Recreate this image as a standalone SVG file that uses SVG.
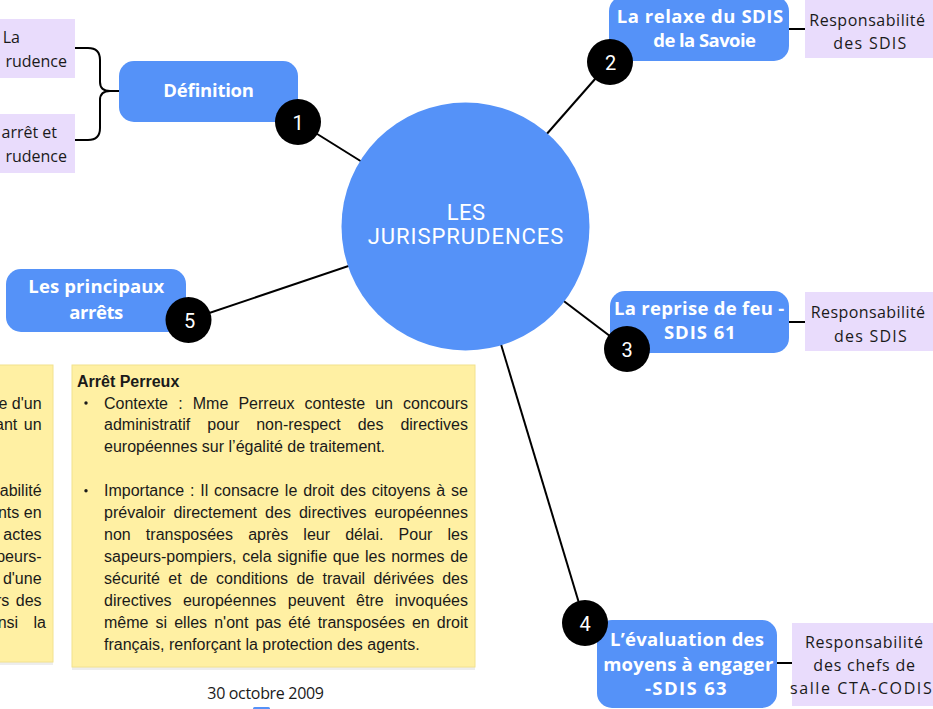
<svg xmlns="http://www.w3.org/2000/svg" width="933" height="709" viewBox="0 0 933 709">
<style>
.node{fill:#5592F8}
.nt{font-family:"Open Sans","Liberation Sans",sans-serif;font-weight:700;font-size:18.5px;fill:#ffffff}
.leaf{fill:#E9DCFC}
.lt{font-family:"Open Sans","Liberation Sans",sans-serif;font-size:16px;fill:#1a1a1a}
.badge{fill:#000000}
.bt{font-family:Roboto,"DejaVu Sans",sans-serif;font-size:20px;fill:#ffffff;text-anchor:middle}
.ln{stroke:#000000;stroke-width:2;fill:none}
.note{fill:#FFF0A3;stroke:#F2E28E;stroke-width:1}
.shadow{fill:#000000;opacity:0.07}
.body{font-family:"Liberation Sans",Arial,sans-serif;font-size:16px;fill:#1a1a1a}
.ct{font-family:Roboto,"DejaVu Sans",sans-serif;font-size:22px;fill:#ffffff}
</style>
<rect x="0" y="0" width="933" height="709" fill="#ffffff"/>
<g id="connectors">
<line class="ln" x1="298" y1="122" x2="465.5" y2="226.5"/>
<line class="ln" x1="610" y1="62" x2="465.5" y2="226.5"/>
<line class="ln" x1="627" y1="349" x2="465.5" y2="226.5"/>
<line class="ln" x1="585" y1="623" x2="465.5" y2="226.5"/>
<line class="ln" x1="188.5" y1="320" x2="465.5" y2="226.5"/>
<line class="ln" x1="789" y1="29" x2="805" y2="29"/>
<line class="ln" x1="789" y1="322" x2="805" y2="322"/>
<line class="ln" x1="777" y1="663" x2="792" y2="663"/>
<path class="ln" d="M75,48 H88 Q100,48 100,60 V82 Q100,91 110,91 H119 M110,91 Q100,91 100,100 V128 Q100,140 88,140 H75"/>
</g>
<g id="note-left">
<rect class="shadow" x="-10" y="368" width="63" height="297"/>
<rect class="note" x="-10" y="365" width="63" height="297"/>
<text class="body" text-anchor="end">
<tspan x="46" y="408.5">me d'un</tspan>
<tspan x="46" y="430.4" word-spacing="2">ant un</tspan>
<tspan x="46" y="496.2">sabilité</tspan>
<tspan x="46" y="518.1">ents en</tspan>
<tspan x="46" y="540">s actes</tspan>
<tspan x="46" y="561.9">peurs-</tspan>
<tspan x="46" y="583.8">d'une</tspan>
<tspan x="46" y="605.7" word-spacing="2">rs des</tspan>
<tspan x="46" y="627.6" word-spacing="11">nsi la</tspan>
</text>
</g>
<g id="note-perreux">
<rect class="shadow" x="72" y="368" width="403" height="302"/>
<rect class="note" x="72" y="365" width="403" height="302"/>
<text class="body" x="77" y="386.6" font-weight="700">Arrêt Perreux</text>
<circle cx="86" cy="403" r="1.7" fill="#1a1a1a"/>
<circle cx="86" cy="490.7" r="1.7" fill="#1a1a1a"/>
<text class="body" x="104" y="408.5" word-spacing="5.7" textLength="364" lengthAdjust="spacing">Contexte : Mme Perreux conteste un concours</text>
<text class="body" x="104" y="430.4" word-spacing="12.5" textLength="364" lengthAdjust="spacing">administratif pour non-respect des directives</text>
<text class="body" x="104" y="452.3">européennes sur l’égalité de traitement.</text>
<text class="body" x="104" y="496.2" word-spacing="1.4" textLength="364" lengthAdjust="spacing">Importance : Il consacre le droit des citoyens à se</text>
<text class="body" x="104" y="518.1" word-spacing="3.6" textLength="364" lengthAdjust="spacing">prévaloir directement des directives européennes</text>
<text class="body" x="104" y="540" word-spacing="10.7" textLength="364" lengthAdjust="spacing">non transposées après leur délai. Pour les</text>
<text class="body" x="104" y="561.9" word-spacing="1.2" textLength="364" lengthAdjust="spacing">sapeurs-pompiers, cela signifie que les normes de</text>
<text class="body" x="104" y="583.8" word-spacing="3.9" textLength="364" lengthAdjust="spacing">sécurité et de conditions de travail dérivées des</text>
<text class="body" x="104" y="605.7" word-spacing="7" textLength="364" lengthAdjust="spacing">directives européennes peuvent être invoquées</text>
<text class="body" x="104" y="627.6" word-spacing="2.6" textLength="364" lengthAdjust="spacing">même si elles n'ont pas été transposées en droit</text>
<text class="body" x="104" y="649.5">français, renforçant la protection des agents.</text>
</g>
<g id="leaf-def-1">
<rect class="leaf" x="-10" y="19" width="85" height="59"/>
<text class="lt" text-anchor="end"><tspan x="20" y="43.3">La</tspan><tspan x="67" y="66.7">rudence</tspan></text>
</g>
<g id="leaf-def-2">
<rect class="leaf" x="-10" y="114" width="85" height="59"/>
<text class="lt" text-anchor="end"><tspan x="57" y="138.3">arrêt et</tspan><tspan x="67" y="161.7">rudence</tspan></text>
</g>
<g id="node-definition">
<rect class="node" x="119" y="61" width="179" height="61" rx="15"/>
<text class="nt" x="163.3" y="96.7" textLength="90.7" lengthAdjust="spacing">Définition</text>
</g>
<g id="node-savoie">
<rect class="node" x="609" y="-4" width="180" height="65" rx="15"/>
<text class="nt" x="616.7" y="22.7" textLength="166.5" lengthAdjust="spacing">La relaxe du SDIS</text>
<text class="nt" x="653.3" y="47.3" textLength="102.7" lengthAdjust="spacing">de la Savoie</text>
</g>
<g id="leaf-savoie">
<rect class="leaf" x="805" y="-2" width="135" height="60"/>
<text class="lt" x="809.3" y="25.7" textLength="115.7" lengthAdjust="spacing">Responsabilité</text>
<text class="lt" x="833.3" y="49" textLength="73" lengthAdjust="spacing">des SDIS</text>
</g>
<g id="node-reprise">
<rect class="node" x="610" y="291" width="179" height="62" rx="15"/>
<text class="nt" x="614" y="315" textLength="170.3" lengthAdjust="spacing">La reprise de feu -</text>
<text class="nt" x="664" y="339.3" textLength="71.7" lengthAdjust="spacing">SDIS 61</text>
</g>
<g id="leaf-reprise">
<rect class="leaf" x="805" y="292" width="135" height="59"/>
<text class="lt" x="810.7" y="318.3" textLength="114.3" lengthAdjust="spacing">Responsabilité</text>
<text class="lt" x="834" y="341.7" textLength="72.7" lengthAdjust="spacing">des SDIS</text>
</g>
<g id="node-evaluation">
<rect class="node" x="597" y="620" width="180" height="88" rx="15"/>
<text class="nt" x="610" y="646" textLength="154" lengthAdjust="spacing">L’évaluation des</text>
<text class="nt" x="603.3" y="670.7" textLength="170" lengthAdjust="spacing">moyens à engager</text>
<text class="nt" x="645" y="695" textLength="81.7" lengthAdjust="spacing">-SDIS 63</text>
</g>
<g id="leaf-evaluation">
<rect class="leaf" x="792" y="623" width="148" height="83"/>
<text class="lt" x="805" y="647.7" textLength="118" lengthAdjust="spacing">Responsabilité</text>
<text class="lt" x="813.3" y="671" textLength="101.7" lengthAdjust="spacing">des chefs de</text>
<text class="lt" x="790" y="694.3" textLength="141.7" lengthAdjust="spacing">salle CTA-CODIS</text>
</g>
<g id="node-arrets">
<rect class="node" x="6" y="269" width="180" height="63" rx="15"/>
<text class="nt" x="28.3" y="293.3" textLength="136" lengthAdjust="spacing">Les principaux</text>
<text class="nt" x="69.3" y="319" textLength="54" lengthAdjust="spacing">arrêts</text>
</g>
<g id="node-center">
<circle cx="465.5" cy="226.5" r="124" fill="#5592F8"/>
<text class="ct" x="446.7" y="220" textLength="38.3" lengthAdjust="spacing">LES</text>
<text class="ct" x="367.7" y="244" textLength="195.7" lengthAdjust="spacing">JURISPRUDENCES</text>
</g>
<g id="badge-1"><circle class="badge" cx="298" cy="122" r="23"/><text class="bt" x="298" y="129.5">1</text></g>
<g id="badge-2"><circle class="badge" cx="610" cy="62" r="23"/><text class="bt" x="610.5" y="69.5">2</text></g>
<g id="badge-3"><circle class="badge" cx="627" cy="349" r="23"/><text class="bt" x="627" y="356.5">3</text></g>
<g id="badge-4"><circle class="badge" cx="585" cy="623" r="23"/><text class="bt" x="585" y="630.5">4</text></g>
<g id="badge-5"><circle class="badge" cx="188.5" cy="320" r="23"/><text class="bt" x="189.5" y="327.5">5</text></g>
<g id="date">
<text class="lt" x="207.3" y="699" font-size="15" textLength="116.7" lengthAdjust="spacing">30 octobre 2009</text>
<rect x="253" y="707" width="17" height="3" rx="1.5" fill="#5592F8"/>
</g>
</svg>
